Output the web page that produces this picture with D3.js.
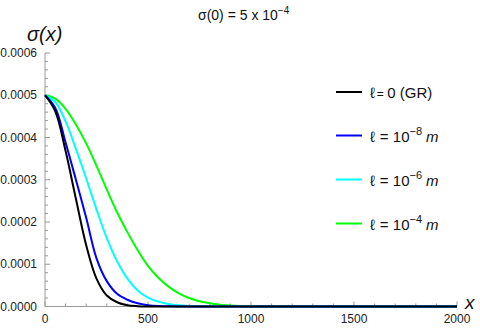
<!DOCTYPE html>
<html>
<head>
<meta charset="utf-8">
<script src="https://cdn.jsdelivr.net/npm/d3@7"></script>
<style>
  body { margin: 0; background: #fff; }
  text { font-family: "Liberation Sans", Arial, sans-serif; }
</style>
</head>
<body>
<div id="chart"></div>
<script>
var width = 480, height = 330;

// x positions
var xs = [0, 50, 100, 150, 200, 250, 300, 350, 400, 450, 500, 550, 600, 650, 700, 750, 800, 850, 900, 950, 1000, 2000];

// sigma(x) for each l
var sigmaGR = [0.000500, 0.000462, 0.000368, 0.000255, 0.000145, 0.000066, 0.000026, 0.0000100, 0.0000030, 0.0000008, 0.0000002, 0, 0, 0, 0, 0, 0, 0, 0, 0, 0, 0];
var sigmaL8 = [0.000500, 0.000470, 0.000388, 0.000300, 0.000210, 0.000114, 0.000060, 0.000030, 0.0000160, 0.0000075, 0.0000032, 0.0000012, 0.0000004, 0.0000001, 0, 0, 0, 0, 0, 0, 0, 0];
var sigmaL6 = [0.000500, 0.000484, 0.000438, 0.000373, 0.000303, 0.000230, 0.000162, 0.000107, 0.000066, 0.000038, 0.000021, 0.0000115, 0.0000058, 0.0000028, 0.0000013, 0.0000005, 0.0000002, 0, 0, 0, 0, 0];
var sigmaL4 = [0.000500, 0.000492, 0.000468, 0.000431, 0.000386, 0.000333, 0.000277, 0.000223, 0.000176, 0.000133, 0.000096, 0.000068, 0.000047, 0.000031, 0.000020, 0.0000125, 0.0000075, 0.0000044, 0.0000024, 0.0000013, 0.0000007, 0];

var seriesColors = ["#000000", "#0000ff", "#00ffff", "#00ff00"];
var seriesExp = [null, "\u22128", "\u22126", "\u22124"];

var xTicks = [0, 500, 1000, 1500, 2000];
var yTicks = [0, 0.0001, 0.0002, 0.0003, 0.0004, 0.0005, 0.0006];

var svg = d3.select("#chart").append("svg")
  .attr("width", width)
  .attr("height", height);

var x = d3.scaleLinear().domain([0, 2000]).range([45, 457]);
var y = d3.scaleLinear().domain([0, 0.0006]).range([306.5, 53]);

var axisColor = "#999";

// minor ticks
var xMinor = d3.range(0, 2001, 100);
var yMinor = d3.range(0, 0.000601, 0.00002);

svg.append("g").selectAll("line.xm")
  .data(xMinor).enter().append("line")
    .attr("x1", function(d) { return x(d); })
    .attr("x2", function(d) { return x(d); })
    .attr("y1", y(0))
    .attr("y2", function(d) { return d % 500 === 0 ? y(0) - 5 : y(0) - 3; })
    .attr("stroke", axisColor);

svg.append("g").selectAll("line.ym")
  .data(yMinor).enter().append("line")
    .attr("y1", function(d) { return y(d); })
    .attr("y2", function(d) { return y(d); })
    .attr("x1", x(0))
    .attr("x2", function(d, i) { return i % 5 === 0 ? x(0) + 5 : x(0) + 3; })
    .attr("stroke", axisColor);

// axes lines
svg.append("line")
  .attr("x1", x(0)).attr("x2", x(2000))
  .attr("y1", y(0)).attr("y2", y(0))
  .attr("stroke", axisColor);
svg.append("line")
  .attr("x1", x(0)).attr("x2", x(0))
  .attr("y1", y(0)).attr("y2", y(0.0006))
  .attr("stroke", axisColor);

// tick labels
svg.append("g").selectAll("text")
  .data(xTicks).enter().append("text")
    .attr("x", function(d) { return x(d); })
    .attr("y", 323)
    .attr("text-anchor", "middle")
    .attr("font-size", 12)
    .attr("fill", "#222")
    .text(function(d) { return d; });

svg.append("g").selectAll("text")
  .data(yTicks).enter().append("text")
    .attr("x", 37)
    .attr("y", function(d) { return y(d) + 4; })
    .attr("text-anchor", "end")
    .attr("font-size", 12)
    .attr("fill", "#222")
    .text(function(d) { return d.toFixed(4); });

// curves
var line = d3.line()
  .x(function(d) { return x(d[0]); })
  .y(function(d) { return y(d[1]); })
  .curve(d3.curveCatmullRom.alpha(0.5));

var allSeries = [sigmaGR, sigmaL8, sigmaL6, sigmaL4];
allSeries.slice().reverse().forEach(function(s, i) {
  var k = allSeries.length - 1 - i;
  svg.append("path")
    .datum(xs.map(function(v, j) { return [v, s[j]]; }))
    .attr("d", line)
    .attr("fill", "none")
    .attr("stroke", seriesColors[k])
    .attr("stroke-width", 2);
});

// axis labels
svg.append("text")
  .attr("x", 27).attr("y", 41)
  .attr("font-size", 20)
  .attr("font-style", "italic")
  .attr("fill", "#111")
  .text("\u03c3(x)");

svg.append("text")
  .attr("x", 465).attr("y", 309)
  .attr("font-size", 19)
  .attr("font-style", "italic")
  .attr("fill", "#111")
  .text("x");

// title
var title = svg.append("text")
  .attr("x", 198).attr("y", 20)
  .attr("font-size", 14)
  .attr("fill", "#111");
title.append("tspan").text("\u03c3(0) = 5 x 10");
title.append("tspan").attr("dy", -6).attr("font-size", 10).text("\u22124");

// legend
var legendY = [92, 135.5, 179.5, 223.5];
var legend = svg.append("g");
seriesColors.forEach(function(c, i) {
  legend.append("line")
    .attr("x1", 336).attr("x2", 362)
    .attr("y1", legendY[i]).attr("y2", legendY[i])
    .attr("stroke", c)
    .attr("stroke-width", 2);
  var t = legend.append("text")
    .attr("x", 370).attr("y", legendY[i] + 6)
    .attr("font-size", 15)
    .attr("fill", "#111");
  if (seriesExp[i] === null) {
    t.append("tspan").text("\u2113");
    t.append("tspan").attr("font-size", 12).attr("dx", 2).text("= ");
    t.append("tspan").text("0 (GR)");
  } else {
    t.append("tspan").text("\u2113");
    t.append("tspan").attr("dx", 5).text("= 10");
    t.append("tspan").attr("dy", -7).attr("font-size", 11).text(seriesExp[i]);
    t.append("tspan").attr("dy", 7).attr("dx", 4).attr("font-style", "italic").text("m");
  }
});
</script>
</body>
</html>
